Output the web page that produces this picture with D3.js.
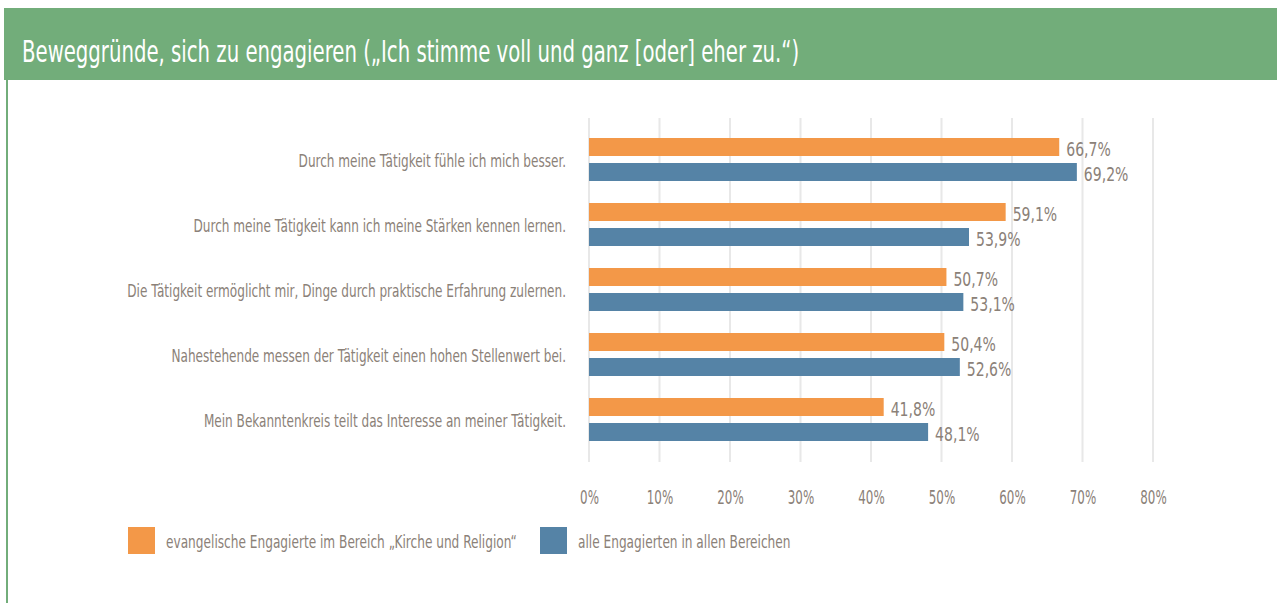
<!DOCTYPE html>
<html><head><meta charset="utf-8">
<script src="https://cdn.jsdelivr.net/npm/d3@7"></script>
<style>
html,body{margin:0;padding:0;background:#fff;}
svg{display:block;}
text{font-family:"DejaVu Sans Condensed","Liberation Sans Narrow",sans-serif;}
</style></head>
<body><svg id="c" width="1277" height="603"></svg>
<script>
const title = "Beweggründe, sich zu engagieren („Ich stimme voll und ganz [oder] eher zu.“)";
const categories = [
  "Durch meine Tätigkeit fühle ich mich besser.",
  "Durch meine Tätigkeit kann ich meine Stärken kennen lernen.",
  "Die Tätigkeit ermöglicht mir, Dinge durch praktische Erfahrung zulernen.",
  "Nahestehende messen der Tätigkeit einen hohen Stellenwert bei.",
  "Mein Bekanntenkreis teilt das Interesse an meiner Tätigkeit."
];
const seriesNames = ["evangelische Engagierte im Bereich „Kirche und Religion“", "alle Engagierten in allen Bereichen"];
const evangelisch = [66.7, 59.1, 50.7, 50.4, 41.8];
const alle = [69.2, 53.9, 53.1, 52.6, 48.1];
const tickValues = [0, 10, 20, 30, 40, 50, 60, 70, 80];
const colors = ["#F39848", "#5583A6"];

const svg = d3.select("#c");
const textColor = "#8b8178";

// condensed text helper: places text at (x,y) and squeezes horizontally
function cond(sel, fx, fy, k) {
  sel.attr("transform", (d, i) => `translate(${fx(d, i)},${fy(d, i)}) scale(${k},1)`).attr("x", 0).attr("y", 0);
}

// header
svg.append("rect").attr("x", 4).attr("y", 8).attr("width", 1273).attr("height", 72).attr("fill", "#72AD7A");
svg.append("rect").attr("x", 6).attr("y", 80).attr("width", 2).attr("height", 523).attr("fill", "#72AD7A");
svg.append("text").attr("fill", "#fff").attr("font-size", 30).text(title)
  .call(cond, () => 22, () => 62, 0.73);

const x = d3.scaleLinear().domain([0, 80]).range([589, 1153]);
const y0 = d3.scaleBand().domain(categories).range([127, 452]);
const y1 = d3.scaleBand().domain([0, 1]).range([11, 54]).paddingInner(0.28);

// grid
svg.append("g").selectAll("line").data(tickValues).join("line")
  .attr("x1", d => x(d)).attr("x2", d => x(d)).attr("y1", 118).attr("y2", 462)
  .attr("stroke", "#e8e8e8").attr("stroke-width", 2);

// axis tick labels
const axis = d3.axisBottom(x).tickValues(tickValues).tickFormat(d => d + "%").tickSize(0).tickPadding(0);
const ag = svg.append("g").attr("transform", "translate(0,497)").call(axis);
ag.select(".domain").remove();
ag.selectAll("text").attr("fill", textColor).attr("font-size", 20).attr("font-family", null)
  .attr("dy", "0.35em").attr("transform", "scale(0.66,1)");

const fmt = v => v.toFixed(1).replace(".", ",") + "%";
const data = categories.map((c, i) => ({c, vals: [evangelisch[i], alle[i]]}));

const groups = svg.append("g").selectAll("g").data(data).join("g")
  .attr("transform", d => `translate(0,${y0(d.c)})`);

groups.append("text").attr("dy", "0.35em")
  .attr("text-anchor", "end").attr("fill", textColor).attr("font-size", 17).text(d => d.c)
  .call(cond, () => 566, () => y0.bandwidth() / 2 + 2, 0.79);

groups.selectAll("rect").data(d => d.vals).join("rect")
  .attr("x", x(0)).attr("y", (v, i) => y1(i)).attr("height", y1.bandwidth())
  .attr("width", v => x(v) - x(0)).attr("fill", (v, i) => colors[i]);

groups.selectAll("text.val").data(d => d.vals).join("text").attr("class", "val")
  .attr("dy", "0.35em").attr("fill", textColor).attr("font-size", 20).text(fmt)
  .call(cond, v => x(v) + 7, (v, i) => y1(i) + y1.bandwidth() / 2 + 2, 0.78);

// legend
const legX = [128, 540];
const lg = svg.append("g").selectAll("g").data(seriesNames).join("g")
  .attr("transform", (d, i) => `translate(${legX[i]},527)`);
lg.append("rect").attr("width", 27).attr("height", 27).attr("fill", (d, i) => colors[i]);
lg.append("text").attr("dy", "0.35em").attr("fill", textColor).attr("font-size", 17).text(d => d)
  .call(cond, () => 38, () => 15, 0.795);
</script></body></html>
